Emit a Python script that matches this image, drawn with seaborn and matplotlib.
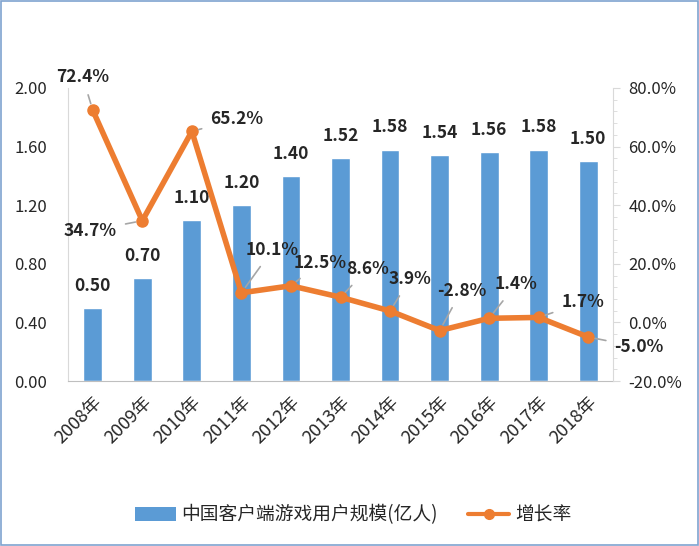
import numpy as np
import pandas as pd
import matplotlib
matplotlib.use("Agg")
import matplotlib.pyplot as plt
from matplotlib.patches import Rectangle, Patch
from matplotlib.lines import Line2D
from matplotlib.ticker import MultipleLocator, FuncFormatter
import seaborn as sns

years = ["2008年", "2009年", "2010年", "2011年", "2012年", "2013年",
         "2014年", "2015年", "2016年", "2017年", "2018年"]
users = [0.50, 0.70, 1.10, 1.20, 1.40, 1.52, 1.58, 1.54, 1.56, 1.58, 1.50]
growth = [72.4, 34.7, 65.2, 10.1, 12.5, 8.6, 3.9, -2.8, 1.4, 1.7, -5.0]

# where each growth label sits relative to its point (pixels)
label_offsets = [(-10, 33), (-52, -10), (45, 12), (31, 43), (29, 23), (27, 28),
                 (20, 32), (22, 40), (27, 34), (44, 15), (51, -10)]

sns.set_style("white")
plt.rcParams["font.family"] = ["Noto Sans CJK SC", "DejaVu Sans"]

bar_color = "#5B9BD5"
line_color = "#ED7D31"

df = pd.DataFrame({"year": years, "users": users, "growth": growth})

fig = plt.figure(figsize=(6.99, 5.46), dpi=100)
ax = fig.add_axes([68 / 699, 1 - 381 / 546, 545 / 699, 293 / 546])

sns.barplot(data=df, x="year", y="users", color=bar_color, width=0.38,
            saturation=1, ax=ax)
ax.set_xlim(-0.5, 10.5)
ax.set_ylim(0, 2.0)
ax.yaxis.set_major_locator(MultipleLocator(0.4))
ax.yaxis.set_major_formatter(FuncFormatter(lambda v, p: f"{v:.2f}"))
ax.set_xlabel("")
ax.set_ylabel("")
ax.tick_params(axis="y", labelsize=12, length=0, pad=15)
ax.tick_params(axis="x", labelsize=13, length=0, pad=9)
for lab in ax.get_xticklabels():
    lab.set_rotation(45)
    lab.set_ha("right")
    lab.set_rotation_mode("anchor")
for s in ["top", "right"]:
    ax.spines[s].set_visible(False)
ax.spines["left"].set_color("#D9D9D9")
ax.spines["bottom"].set_color("#BFBFBF")

for i, v in enumerate(users):
    ax.text(i, v + 0.09, f"{v:.2f}", ha="center", va="bottom",
            fontsize=12.5, fontweight="bold")

ax2 = ax.twinx()
ax2.plot(np.arange(len(growth)), growth, color=line_color, lw=4,
         marker="o", markersize=8)
ax2.set_ylim(-20, 80)
ax2.yaxis.set_major_locator(MultipleLocator(20))
ax2.yaxis.set_minor_locator(MultipleLocator(4))
ax2.yaxis.set_major_formatter(FuncFormatter(lambda v, p: f"{v:.1f}%"))
ax2.tick_params(axis="y", which="major", labelsize=12, length=5,
                color="#D9D9D9", pad=6)
ax2.tick_params(axis="y", which="minor", length=3, color="#D9D9D9")
for s in ["top", "left", "bottom"]:
    ax2.spines[s].set_visible(False)
ax2.spines["right"].set_color("#D9D9D9")

for i, (g, off) in enumerate(zip(growth, label_offsets)):
    ax2.annotate(f"{g:.1f}%", xy=(i, g), xytext=off, textcoords="offset pixels",
                 ha="center", va="center", fontsize=12.5, fontweight="bold",
                 arrowprops=dict(arrowstyle="-", color="#A6A6A6", lw=1.2,
                                 shrinkA=4, shrinkB=5))

handles = [Patch(facecolor=bar_color, edgecolor="none"),
           Line2D([0], [0], color=line_color, lw=3, marker="o", markersize=7)]
fig.legend(handles, ["中国客户端游戏用户规模(亿人)", "增长率"],
           loc="center", bbox_to_anchor=(0.505, 1 - 515 / 546), ncol=2,
           frameon=False, fontsize=13.5, handlelength=2.2, columnspacing=1.6,
           handletextpad=0.3)

fig.patches.append(Rectangle((0.001, 0.001), 0.997, 0.997, transform=fig.transFigure,
                             fill=False, edgecolor="#7FA3CF", lw=1.2))

fig.savefig("out.png", dpi=100)
